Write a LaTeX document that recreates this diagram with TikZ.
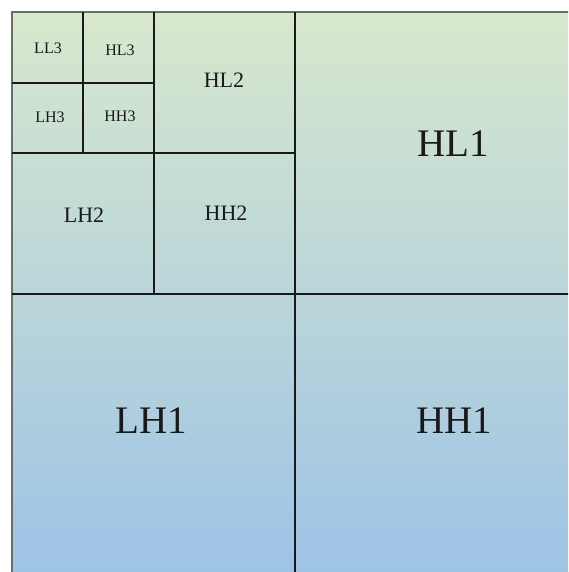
\documentclass[tikz,border=0pt]{standalone}
\usepackage{fontspec}
\setmainfont{Liberation Serif}
\definecolor{topgreen}{RGB}{216,232,205}
\definecolor{botblue}{RGB}{157,195,230}
\definecolor{edgegray}{RGB}{105,110,105}
\begin{document}
\begin{tikzpicture}[x=1pt,y=1pt,
  gridline/.style={line width=1.6pt,draw=black!90},
  outerline/.style={line width=2pt,draw=edgegray},
  lvlone/.style={font=\fontsize{39}{39}\selectfont,text=black!90,inner sep=0pt},
  lvltwo/.style={font=\fontsize{22}{22}\selectfont,text=black!90,inner sep=0pt},
  lvlthree/.style={font=\fontsize{16}{16}\selectfont,text=black!90,inner sep=0pt}]
\useasboundingbox (0,0) rectangle (568,572);
\fill[white] (0,0) rectangle (568,572);
\begin{scope}
\clip (0,0) rectangle (568,572);
\shade[top color=topgreen,bottom color=botblue] (12,-4) rectangle (578,560);
% outer border (top and left)
\draw[outerline] (12,-4) -- (12,560) -- (578,560);
% level 1 split
\draw[gridline] (295,560) -- (295,-4);
\draw[gridline] (12,278) -- (578,278);
% level 2 split
\draw[gridline] (154,560) -- (154,278);
\draw[gridline] (12,419) -- (295,419);
% level 3 split
\draw[gridline] (83,560) -- (83,419);
\draw[gridline] (12,489) -- (154,489);
\end{scope}
% labels
\node[lvlthree] (ll3) at (48,524) {LL3};
\node[lvlthree] (hl3) at (120,522) {HL3};
\node[lvlthree] (lh3) at (50,455) {LH3};
\node[lvlthree] (hh3) at (120,456) {HH3};
\node[lvltwo] (hl2) at (224,492) {HL2};
\node[lvltwo] (lh2) at (84,357) {LH2};
\node[lvltwo] (hh2) at (226,359) {HH2};
\node[lvlone] (hl1) at (453,428) {HL1};
\node[lvlone] (lh1) at (151,151) {LH1};
\node[lvlone] (hh1) at (454,151) {HH1};
\end{tikzpicture}
\end{document}
